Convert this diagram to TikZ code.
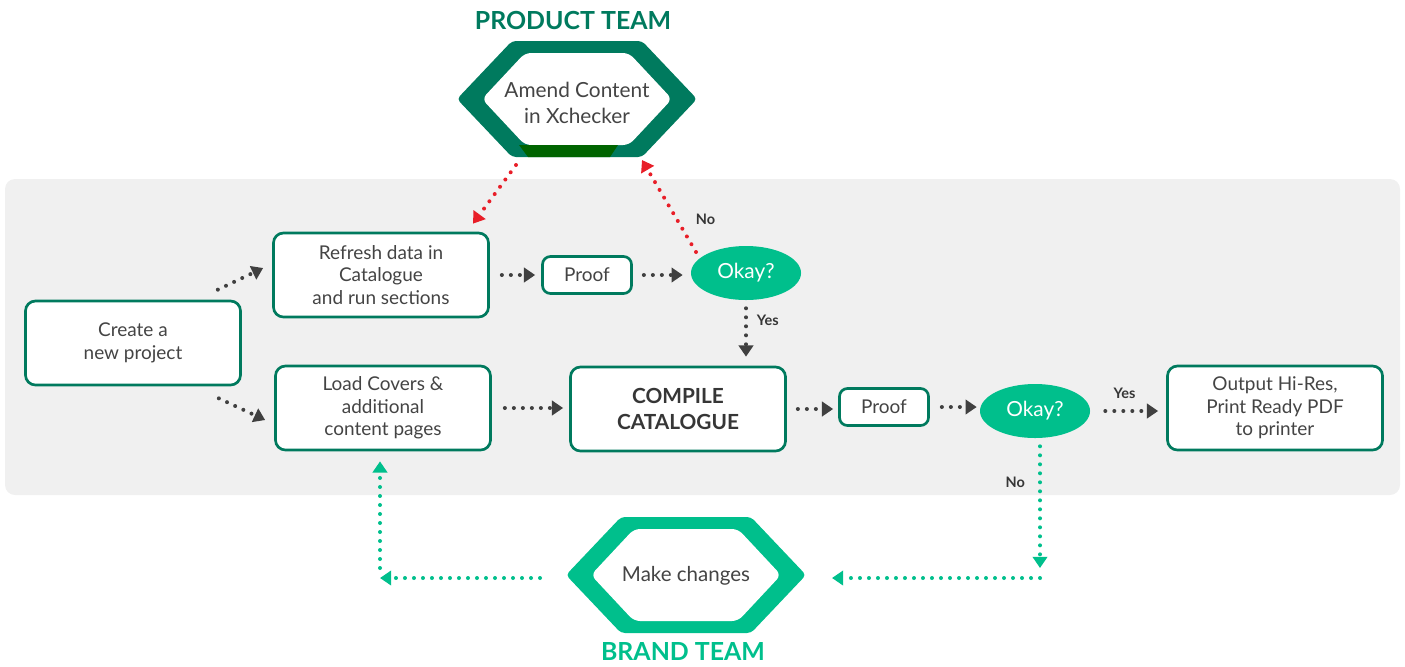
\documentclass[tikz,border=0pt]{standalone}
\usepackage{fontspec}
\setmainfont{Lato}
\usetikzlibrary{shapes,arrows.meta,calc}
\definecolor{darkteal}{RGB}{0,122,94}
\definecolor{brandgreen}{RGB}{0,191,140}
\definecolor{palegrey}{RGB}{240,240,240}
\definecolor{textgrey}{RGB}{68,68,68}
\definecolor{arrowgrey}{RGB}{64,64,64}
\definecolor{alertred}{RGB}{232,30,40}
\definecolor{deepgreen}{RGB}{0,100,0}
\tikzstyle{block} = [rectangle, draw=darkteal, fill=white, line width=1.9pt,
    text=textgrey, align=center, rounded corners=0.25cm,
    minimum width=5.375cm, minimum height=2.1cm, font=\fontsize{13.5}{16}\selectfont]
\tikzstyle{proof} = [block, minimum width=2.225cm, minimum height=0.925cm, rounded corners=0.2cm]
\tikzstyle{decision} = [ellipse, fill=brandgreen, text=white, inner sep=0pt,
    minimum width=2.75cm, minimum height=1.35cm, font=\fontsize{14.8}{17}\selectfont]
\tikzstyle{team} = [font=\bfseries\fontsize{17.7}{21}\selectfont]
\tikzstyle{lbl} = [text=textgrey!80!black, font=\bfseries\fontsize{10.3}{12}\selectfont]
\tikzstyle{arrow} = [arrowgrey, line width=0.1cm, line cap=round,
    dash pattern=on 0pt off 0.225cm, -{Triangle[length=0.28cm,width=0.36cm]}]
\tikzstyle{redarrow} = [arrow, alertred]
\tikzstyle{greenarrow} = [arrow, brandgreen]
\newcommand\teamhex[3]{%
  \fill[#3, rounded corners=0.1cm] (#1-120,#2) -- (#1-65,#2-58) -- (#1+65,#2-58)
    -- (#1+120,#2) -- (#1+65,#2+58) -- (#1-65,#2+58) -- cycle;
  \fill[white, rounded corners=0.15cm] (#1-95,#2) -- (#1-52,#2-46) -- (#1+52,#2-46)
    -- (#1+95,#2) -- (#1+52,#2+46) -- (#1-52,#2+46) -- cycle;}
\begin{document}
\begin{tikzpicture}[x=0.025cm, y=-0.025cm]
  \useasboundingbox (0,0) rectangle (1405,666);
  \fill[palegrey, rounded corners=0.25cm] (5,179) rectangle (1400,495);

  \teamhex{577}{99}{darkteal}
  \fill[deepgreen] (519,145) -- (618,145) -- (610,157) -- (528,157) -- cycle;
  \teamhex{686}{575}{brandgreen}

  \node[team, text=darkteal] (product) at (573,20) {PRODUCT TEAM};
  \node[team, text=brandgreen] (brand) at (683,651) {BRAND TEAM};
  \node[text=textgrey, align=center, font=\fontsize{14.8}{18}\selectfont] (amend) at (577,103) {Amend Content\\in Xchecker};
  \node[text=textgrey, font=\fontsize{14.6}{17}\selectfont] (makechanges) at (686,576) {Make changes};

  \node[block] (create) at (133,343) {Create a\\new project};
  \node[block] (refresh) at (381,275) {Refresh data in\\Catalogue\\and run sections};
  \node[block] (load) at (383,408) {Load Covers \&\\additional\\content pages};
  \node[proof] (proofa) at (587,275) {Proof};
  \node[decision] (okaya) at (746,273) {Okay?};
  \node[block, text=textgrey!80!black, font=\bfseries\fontsize{14.8}{18}\selectfont] (compile) at (678,409) {COMPILE\\CATALOGUE};
  \node[proof] (proofb) at (884,407) {Proof};
  \node[decision] (okayb) at (1035,411) {Okay?};
  \node[block] (output) at (1275,408) {Output Hi-Res,\\Print Ready PDF\\to printer};

  \coordinate (turnright) at (1040,578);
  \coordinate (turnleft) at (380,578);

  \draw[arrow] ($(create.north east)+(-24,-10)$) -- ($(refresh.west)+(-9,-7)$);
  \draw[arrow] ($(create.south east)+(-23,12)$) -- ($(load.west)+(-9,12)$);
  \draw[arrow, shorten <=0.3cm, shorten >=0.15cm] (refresh.east) -- (refresh.east -| proofa.west);
  \draw[arrow, shorten <=0.275cm, shorten >=0.2cm] (proofa.east) -- (proofa.east -| okaya.west);
  \draw[arrow, shorten <=0.2cm, shorten >=0.225cm] (okaya.south) -- (okaya.south |- compile.north)
    node[lbl, right, pos=0.3, xshift=3pt] (yesa) {Yes};
  \draw[redarrow] ($(okaya)+(-50,-21)$) -- ($(amend)+(65,57)$)
    node[lbl, right, pos=0.36, xshift=9pt] (noa) {No};
  \draw[redarrow] ($(amend)+(-61,62)$) -- ($(refresh.north)+(92,-8)$);
  \draw[arrow, shorten <=0.325cm, shorten >=0.15cm] (load.east) -- (load.east -| compile.west);
  \draw[arrow, shorten <=0.275cm, shorten >=0.125cm] (compile.east) -- (compile.east -| proofb.west);
  \draw[arrow, shorten <=0.3cm, shorten >=0.075cm] (proofb.east) -- (proofb.east -| okayb.west);
  \draw[arrow, shorten <=0.375cm, shorten >=0.2cm] (okayb.east) -- (okayb.east -| output.west)
    node[lbl, above, pos=0.45, yshift=4pt] (yesb) {Yes};
  \draw[greenarrow, shorten <=0.2cm] (okayb.south -| turnright) -- ($(turnright)+(0,-10)$)
    node[lbl, left, pos=0.34, xshift=-6pt] (nob) {No};
  \draw[greenarrow] (turnright) -- ($(makechanges)+(146,2)$);
  \draw[greenarrow] ($(makechanges)+(-146,2)$) -- (turnleft);
  \draw[greenarrow, shorten >=0.25cm] ($(turnleft)+(0,-10)$) -- (turnleft |- load.south);
\end{tikzpicture}
\end{document}
